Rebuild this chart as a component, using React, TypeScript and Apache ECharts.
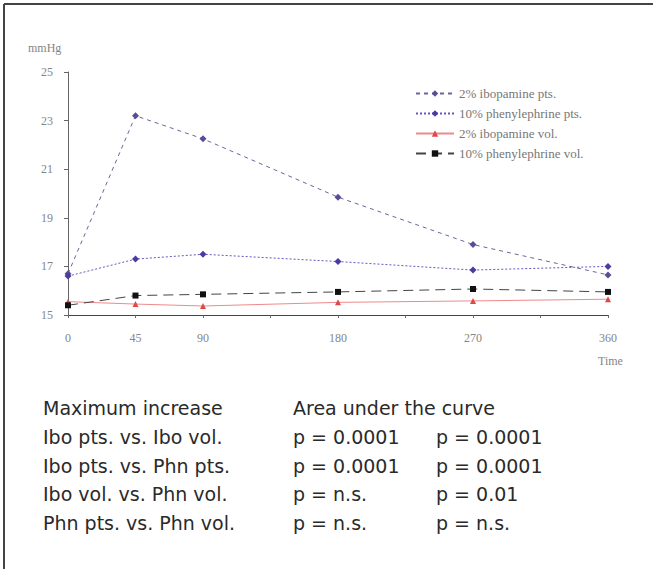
import React, { useEffect, useRef } from "react";
import * as echarts from "echarts";

const times = [0, 45, 90, 180, 270, 360];
const iboPts = [16.7, 23.2, 22.25, 19.85, 17.9, 16.65];
const phnPts = [16.6, 17.3, 17.5, 17.2, 16.85, 17.0];
const iboVol = [15.55, 15.45, 15.37, 15.52, 15.58, 15.65];
const phnVol = [15.4, 15.8, 15.85, 15.95, 16.07, 15.95];
const seriesNames = [
  "2% ibopamine pts.",
  "10% phenylephrine pts.",
  "2% ibopamine vol.",
  "10% phenylephrine vol.",
];
const yTickValues = [15, 17, 19, 21, 23, 25];
const xLabelValues = [0, 45, 90, 180, 270, 360];
const xTickValues = [0, 45, 90, 135, 180, 225, 270, 315, 360];
const yUnit = "mmHg";
const xName = "Time";
const statsHeader = ["Maximum increase", "Area under the curve"];
const comparisons = [
  "Ibo pts. vs. Ibo vol.",
  "Ibo pts. vs. Phn pts.",
  "Ibo vol. vs. Phn vol.",
  "Phn pts. vs. Phn vol.",
];
const pMaxIncrease = ["p = 0.0001", "p = 0.0001", "p = n.s.", "p = n.s."];
const pAuc = ["p = 0.0001", "p = 0.0001", "p = 0.01", "p = n.s."];

const serif = "Liberation Serif, Times New Roman, serif";
const sans = "DejaVu Sans, sans-serif";
const labelGray = "#858585";

export default function App() {
  const ref = useRef<HTMLDivElement>(null);
  useEffect(() => {
    if (!ref.current) return;
    const chart = echarts.init(ref.current, undefined, { renderer: "svg" });
    const pair = (arr: number[]) => times.map((t, i) => [t, arr[i]]);

    const rowY = [409, 438, 467, 495, 524];
    const statTexts: any[] = [];
    const st = (text: string, left: number, y: number) => ({
      type: "text", left, top: y - 11,
      style: { text, font: `19px ${sans}`, fill: "#2a2a2a" },
    });
    statTexts.push(st(statsHeader[0], 43, rowY[0]));
    statTexts.push(st(statsHeader[1], 293, rowY[0]));
    comparisons.forEach((c, i) => {
      const y = rowY[i + 1];
      statTexts.push(st(c, 43, y));
      statTexts.push(st(pMaxIncrease[i], 293, y));
      statTexts.push(st(pAuc[i], 436, y));
    });

    chart.setOption({
      animation: false,
      backgroundColor: "#fff",
      textStyle: { color: labelGray },
      grid: { left: 68, right: 45, top: 72, bottom: 254, containLabel: false },
      legend: {
        orient: "vertical",
        left: 410,
        top: 82,
        itemWidth: 38,
        itemHeight: 8,
        itemGap: 7,
        textStyle: { fontFamily: serif, fontSize: 13, color: "#777" },
        data: seriesNames,
      },
      xAxis: {
        type: "value",
        min: 0,
        max: 360,
        interval: 45,
        axisLine: { lineStyle: { color: "#444", width: 1 } },
        axisTick: { length: 3, lineStyle: { color: "#666" }, customValues: xTickValues },
        axisLabel: {
          customValues: xLabelValues,
          margin: 17,
          fontFamily: serif,
          fontSize: 12,
          color: labelGray,
          textStyle: { color: labelGray },
        },
        splitLine: { show: false },
      },
      yAxis: {
        type: "value",
        min: 15,
        max: 25,
        axisLine: { show: true, lineStyle: { color: "#666", width: 1 } },
        axisTick: { show: true, length: 4, lineStyle: { color: "#666" }, customValues: yTickValues },
        axisLabel: {
          customValues: yTickValues,
          margin: 15,
          fontFamily: serif,
          fontSize: 12,
          color: labelGray,
        },
        splitLine: { show: false },
      },
      series: [
        {
          name: seriesNames[0],
          type: "line",
          data: pair(iboPts),
          symbol: "diamond",
          symbolSize: 7,
          lineStyle: { color: "#6e6499", width: 1, type: [4, 4] },
          itemStyle: { color: "#5a4c99" },
          z: 3,
        },
        {
          name: seriesNames[1],
          type: "line",
          data: pair(phnPts),
          symbol: "diamond",
          symbolSize: 7,
          lineStyle: { color: "#6a55c0", width: 1, type: [2, 2] },
          itemStyle: { color: "#4b3aa0" },
          z: 3,
        },
        {
          name: seriesNames[2],
          type: "line",
          data: pair(iboVol),
          symbol: "triangle",
          symbolSize: 6,
          lineStyle: { color: "#ee8a8a", width: 1, type: "solid" },
          itemStyle: { color: "#e04848" },
          z: 2,
        },
        {
          name: seriesNames[3],
          type: "line",
          data: pair(phnVol),
          symbol: "rect",
          symbolSize: 6,
          lineStyle: { color: "#444", width: 1, type: [10, 6] },
          itemStyle: { color: "#111" },
          z: 2,
        },
      ],
      graphic: [
        { type: "line", shape: { x1: 4, y1: 4, x2: 653, y2: 4 }, style: { stroke: "#444", lineWidth: 2 } },
        { type: "line", shape: { x1: 4, y1: 4, x2: 4, y2: 569 }, style: { stroke: "#444", lineWidth: 2 } },
        {
          type: "text", left: 28, top: 42,
          style: { text: yUnit, font: `12px ${serif}`, fill: labelGray },
        },
        {
          type: "text", left: 598, top: 355,
          style: { text: xName, font: `12px ${serif}`, fill: labelGray },
        },
        ...statTexts,
      ],
    });
    return () => chart.dispose();
  }, []);
  return (
    <div
      ref={ref}
      style={{ position: "fixed", left: 0, top: 0, width: 653, height: 569, background: "#fff" }}
    />
  );
}
